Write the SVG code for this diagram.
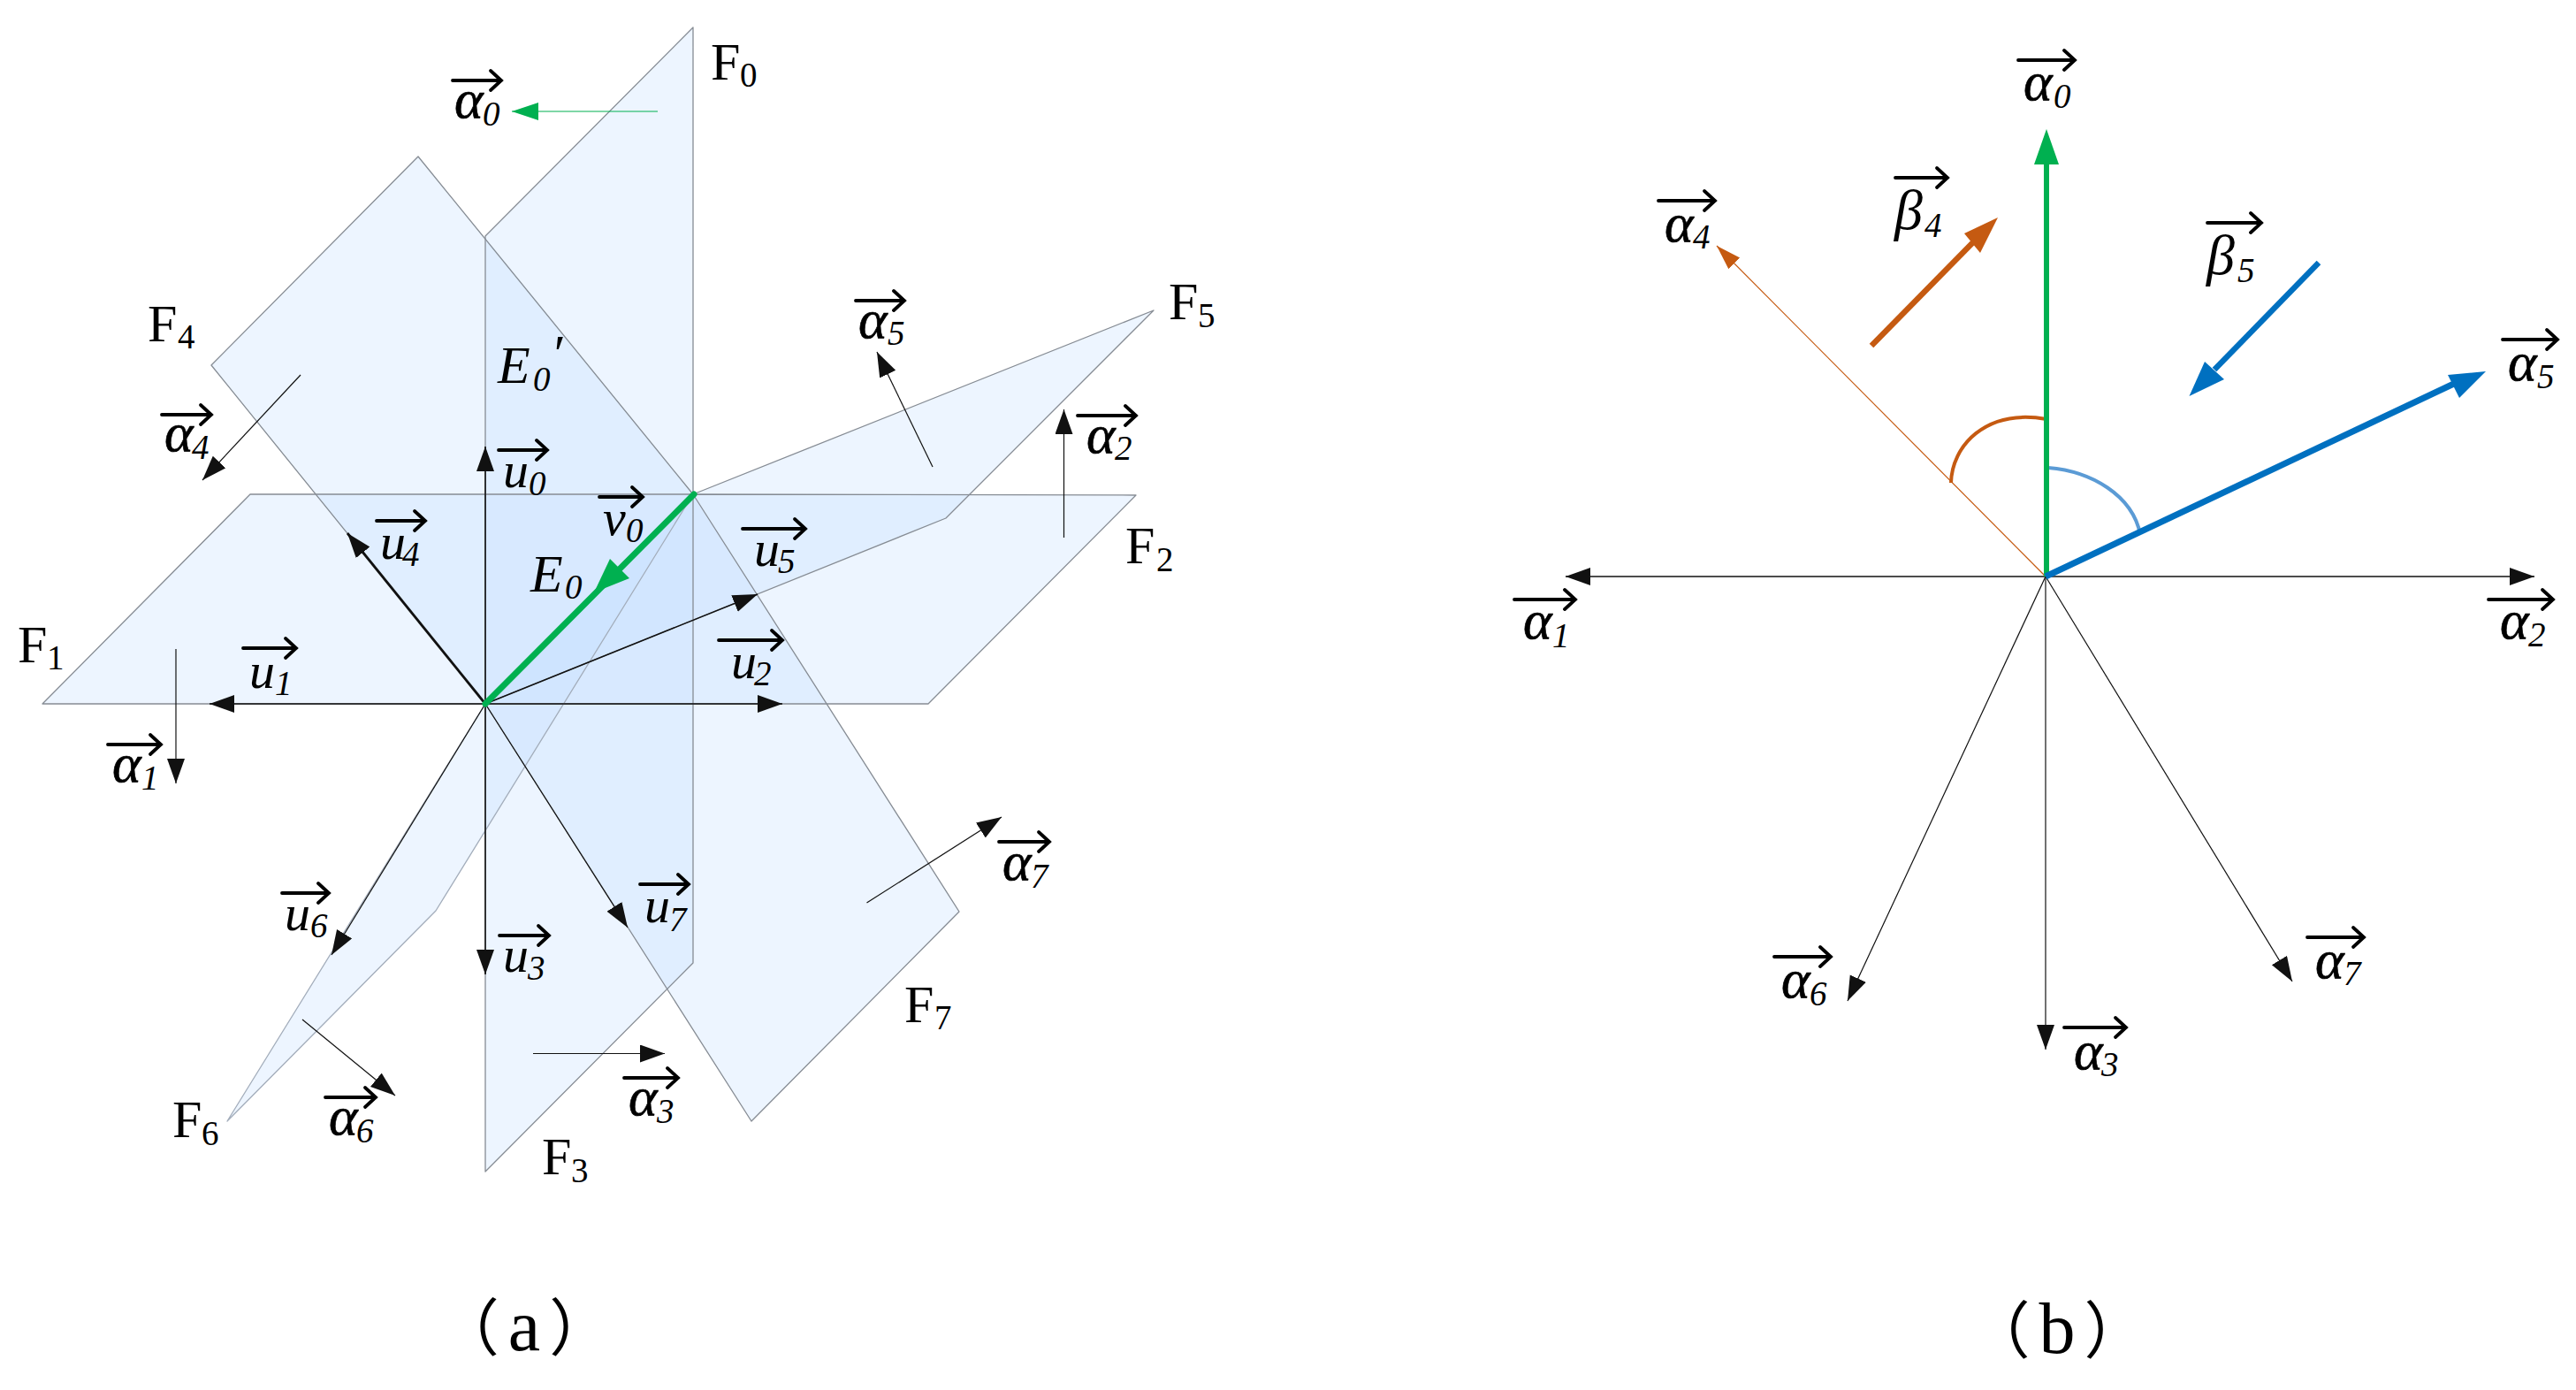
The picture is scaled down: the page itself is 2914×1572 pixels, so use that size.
<svg xmlns="http://www.w3.org/2000/svg" width="2914" height="1572" viewBox="0 0 2914 1572">
<style>
.b1{fill:#edf5ff}.b2{fill:#e0eeff}.b3{fill:#d8e9ff}.b4{fill:#d2e6ff}.b5{fill:#cee4ff}
.pl{fill:none;stroke:#868c94;stroke-width:1.3;stroke-linejoin:round}
.f{font-family:"Liberation Serif",serif;font-size:60px;fill:#000}
.fs{font-size:39px}
.v{font-family:"Liberation Serif",serif;font-style:italic;font-size:58px;fill:#000}
.a{font-size:62px;stroke:#000;stroke-width:.7}
.sub{font-size:39px;stroke:none}
.ov{fill:none;stroke:#000;stroke-width:3.8;stroke-linecap:round;stroke-linejoin:miter}
.k{stroke:#111;stroke-width:1.6;fill:none;marker-end:url(#hk)}
.k0{stroke:#111;stroke-width:1.2;fill:none;marker-end:url(#hk)}
.cap{font-family:"Liberation Serif","Noto Sans CJK SC",serif;font-size:70px;fill:#000;text-anchor:middle}
.capl{font-size:82px}
</style>
<defs>
<marker id="hk" markerUnits="userSpaceOnUse" markerWidth="30" markerHeight="22" refX="28" refY="10" orient="auto"><path d="M0 0L28 10L0 20Z" fill="#111"/></marker>
<marker id="hg" markerUnits="userSpaceOnUse" markerWidth="32" markerHeight="22" refX="30" refY="10" orient="auto"><path d="M0 0L30 10L0 20Z" fill="#00b050"/></marker>
<marker id="ho" markerUnits="userSpaceOnUse" markerWidth="30" markerHeight="22" refX="28" refY="10" orient="auto"><path d="M0 1L28 10L0 19Z" fill="#c55a11"/></marker>
</defs>
<rect width="2914" height="1572" fill="#fff"/>
<g id="plane-fills">
<polygon class="b1" points="784,31 549,267 549,796 784,559"/>
<polygon class="b1" points="283,559 784,559 549,796 48,796"/>
<polygon class="b1" points="784,559 1285,560 1050,796 549,796"/>
<polygon class="b1" points="549,796 784,559 784,1089 549,1325"/>
<polygon class="b1" points="473,177 239,413 549,796 784,559"/>
<polygon class="b1" points="784,559 1305,351 1070,586 549,796"/>
<polygon class="b1" points="549,796 784,559 493,1030 257,1268"/>
<polygon class="b1" points="549,796 784,559 1085,1031 850,1268"/>
<polygon class="b2" points="549,269 784,559 549,559"/>
<polygon class="b2" points="357,559 549,559 549,796"/>
<polygon class="b3" points="549,559 784,559 549,796"/>
<polygon class="b5" points="549,796 784,559 667,748.500"/>
<polygon class="b4" points="784,559 667,748.500 784,701"/>
<polygon class="b4" points="549,796 667,748.500 638,796"/>
<polygon class="b3" points="667,748.500 784,701 784,796 638,796"/>
<polygon class="b3" points="784,559 856,672 784,701"/>
<polygon class="b2" points="784,701 856,672 935,796 784,796"/>
<polygon class="b2" points="784,559 1096,560 1070,586 856,672"/>
<polygon class="b3" points="549,796 638,796 594,866"/>
<polygon class="b2" points="638,796 784,796 784,1089 755,1119 594,866"/>
<polygon class="b2" points="549,796 594,866 549,939"/>
</g>
<g id="F0"><polygon class="pl" points="784,31 549,267 549,796 784,559"/><text class="f" x="804" y="90">F<tspan class="fs" x="837" y="98">0</tspan></text></g>
<g id="F1"><polygon class="pl" points="283,559 784,559 549,796 48,796"/><text class="f" x="20" y="749">F<tspan class="fs" x="53" y="757">1</tspan></text></g>
<g id="F2"><polygon class="pl" points="784,559 1285,560 1050,796 549,796"/><text class="f" x="1273" y="637">F<tspan class="fs" x="1308" y="646">2</tspan></text></g>
<g id="F3"><polygon class="pl" points="549,796 784,559 784,1089 549,1325"/><text class="f" x="613" y="1328">F<tspan class="fs" x="646" y="1337">3</tspan></text></g>
<g id="F4"><polygon class="pl" points="473,177 239,413 549,796 784,559"/><text class="f" x="167" y="386">F<tspan class="fs" x="201" y="394">4</tspan></text></g>
<g id="F5"><polygon class="pl" points="784,559 1305,351 1070,586 549,796"/><text class="f" x="1322" y="361">F<tspan class="fs" x="1355" y="370">5</tspan></text></g>
<g id="F6"><polygon class="pl" style="stroke:#a3adbb" points="549,796 784,559 493,1030 257,1268"/><text class="f" x="195" y="1286">F<tspan class="fs" x="228" y="1295">6</tspan></text></g>
<g id="F7"><polygon class="pl" points="549,796 784,559 1085,1031 850,1268"/><text class="f" x="1023" y="1156">F<tspan class="fs" x="1057" y="1164">7</tspan></text></g>

<g id="connectors">
<g id="a-u">
<path class="k" d="M549 796V505"/>
<path class="k" d="M549 796H237"/>
<path class="k" d="M549 796H885"/>
<path class="k" d="M549 796V1102"/>
<path class="k" style="stroke-width:2.800" d="M549 796L393 603"/>
<path class="k" d="M549 796L857 672"/>
<path class="k0" d="M549 796L375 1080"/>
<path class="k0" d="M549 796L710 1049"/>
</g>
<g id="a-alpha">
<path fill="none" stroke="#00b050" stroke-width="1.2" marker-end="url(#hg)" d="M744 126H579"/>
<path class="k0" d="M199 734V886"/>
<path class="k0" d="M1203.500 608V463"/>
<path class="k0" d="M603 1191.500H752"/>
<path class="k0" d="M340 424L229 543"/>
<path class="k0" d="M1055 528L992 398"/>
<path class="k0" d="M342 1153L447 1239"/>
<path class="k0" d="M980.500 1021L1133 924"/>
</g>
<g id="a-v0">
<path fill="none" stroke="#00b050" stroke-width="7" stroke-linecap="round" d="M785 559L549 796"/>
<polygon fill="#00b050" points="672,670 690,632 712,654"/>
</g>
<g id="b-axes">
<path class="k" d="M2314 652H1771"/>
<path class="k" d="M2314 652H2867"/>
<path class="k0" d="M2314 652L2090 1132"/>
<path class="k0" d="M2314 652V1187"/>
<path class="k0" d="M2314 652L2593 1110"/>
<path fill="none" stroke="#c55a11" stroke-width="1.200" marker-end="url(#ho)" d="M2314 652L1942 278"/>
<path fill="none" stroke="#c55a11" stroke-width="4" d="M2207 546C2208 505 2245 462 2315 474"/>
<path fill="none" stroke="#5b9bd5" stroke-width="4" d="M2317 529C2366 533 2412 560 2421 604"/>
<path fill="none" stroke="#00b050" stroke-width="6" d="M2315 652V186"/>
<polygon fill="#00b050" points="2315,146 2301,186 2329,186"/>
<path fill="none" stroke="#0070c0" stroke-width="7" d="M2314 652L2780 432"/>
<polygon fill="#0070c0" points="2812,420 2769,424 2782,450"/>
<path fill="none" stroke="#c55a11" stroke-width="6.500" d="M2117 391L2232 274"/>
<polygon fill="#c55a11" points="2260,246 2222,264 2240,286"/>
<path fill="none" stroke="#0070c0" stroke-width="6.500" d="M2623 297L2505 418"/>
<polygon fill="#0070c0" points="2476.500,448 2494,409 2516,429"/>
</g>
</g>

<g id="labels-a">
<g id="a-alpha0"><path class="ov" d="M512 91H567m-12-11l12 11l-12 11"/><text class="v a" x="514" y="133">α<tspan class="sub" x="546" y="142">0</tspan></text></g>
<g id="a-alpha1"><path class="ov" d="M122 842H182m-12-11l12 11l-12 11"/><text class="v a" x="127" y="884">α<tspan class="sub" x="160" y="893">1</tspan></text></g>
<g id="a-alpha2"><path class="ov" d="M1219 470H1285m-12-11l12 11l-12 11"/><text class="v a" x="1229" y="512">α<tspan class="sub" x="1261" y="520">2</tspan></text></g>
<g id="a-alpha3"><path class="ov" d="M706 1219H767m-12-11l12 11l-12 11"/><text class="v a" x="711" y="1261">α<tspan class="sub" x="743" y="1270">3</tspan></text></g>
<g id="a-alpha4"><path class="ov" d="M183 469H239m-12-11l12 11l-12 11"/><text class="v a" x="186" y="510">α<tspan class="sub" x="217" y="519">4</tspan></text></g>
<g id="a-alpha5"><path class="ov" d="M968 340H1023m-12-11l12 11l-12 11"/><text class="v a" x="971" y="382">α<tspan class="sub" x="1004" y="390">5</tspan></text></g>
<g id="a-alpha6"><path class="ov" d="M368 1241H425m-12-11l12 11l-12 11"/><text class="v a" x="372" y="1283">α<tspan class="sub" x="403" y="1292">6</tspan></text></g>
<g id="a-alpha7"><path class="ov" d="M1130 952H1187m-12-11l12 11l-12 11"/><text class="v a" x="1134" y="995">α<tspan class="sub" x="1166" y="1004">7</tspan></text></g>
<g id="a-u0"><path class="ov" d="M564 509H619m-12-11l12 11l-12 11"/><text class="v" x="569" y="551">u<tspan class="sub" x="598" y="560">0</tspan></text></g>
<g id="a-u1"><path class="ov" d="M275 733H335m-12-11l12 11l-12 11"/><text class="v" x="282" y="778">u<tspan class="sub" x="311" y="786">1</tspan></text></g>
<g id="a-u2"><path class="ov" d="M813 724H885m-12-11l12 11l-12 11"/><text class="v" x="827" y="767">u<tspan class="sub" x="853" y="775">2</tspan></text></g>
<g id="a-u3"><path class="ov" d="M565 1058H621m-12-11l12 11l-12 11"/><text class="v" x="569" y="1099">u<tspan class="sub" x="597" y="1108">3</tspan></text></g>
<g id="a-u4"><path class="ov" d="M426 589H481m-12-11l12 11l-12 11"/><text class="v" x="430" y="632">u<tspan class="sub" x="455" y="640">4</tspan></text></g>
<g id="a-u5"><path class="ov" d="M840 598H911m-12-11l12 11l-12 11"/><text class="v" x="853" y="640">u<tspan class="sub" x="880" y="648">5</tspan></text></g>
<g id="a-u6"><path class="ov" d="M319 1010H372m-12-11l12 11l-12 11"/><text class="v" x="322" y="1052">u<tspan class="sub" x="351" y="1060">6</tspan></text></g>
<g id="a-u7"><path class="ov" d="M724 1000H779m-12-11l12 11l-12 11"/><text class="v" x="729" y="1043">u<tspan class="sub" x="757" y="1053">7</tspan></text></g>
<g id="a-v"><path class="ov" d="M678 562H727m-12-11l12 11l-12 11"/><text class="v" x="682" y="605">v<tspan class="sub" x="708" y="613">0</tspan></text></g>
<g id="a-E0"><text class="v" x="600" y="669" style="font-size:60px">E<tspan class="sub" x="639" y="677">0</tspan></text></g>
<g id="a-E0p"><text class="v" x="563" y="433" style="font-size:60px">E<tspan class="sub" x="603" y="442">0</tspan><tspan x="623" y="420">′</tspan></text></g>
<text id="cap-a" class="cap" x="593" y="1527">（<tspan class="capl" dx="10">a</tspan><tspan dx="10">）</tspan></text>
</g>

<g id="labels-b">
<g id="b-alpha0"><path class="ov" d="M2283 68H2347m-12-11l12 11l-12 11"/><text class="v a" x="2289" y="113">α<tspan class="sub" x="2323" y="122">0</tspan></text></g>
<g id="b-alpha1"><path class="ov" d="M1713 678H1782m-12-11l12 11l-12 11"/><text class="v a" x="1723" y="722">α<tspan class="sub" x="1756" y="732">1</tspan></text></g>
<g id="b-alpha2"><path class="ov" d="M2815 678H2888m-12-11l12 11l-12 11"/><text class="v a" x="2828" y="722">α<tspan class="sub" x="2860" y="731">2</tspan></text></g>
<g id="b-alpha3"><path class="ov" d="M2335 1162H2405m-12-11l12 11l-12 11"/><text class="v a" x="2346" y="1209">α<tspan class="sub" x="2377" y="1217">3</tspan></text></g>
<g id="b-alpha4"><path class="ov" d="M1876 227H1940m-12-11l12 11l-12 11"/><text class="v a" x="1883" y="273">α<tspan class="sub" x="1915" y="281">4</tspan></text></g>
<g id="b-alpha5"><path class="ov" d="M2831 384H2893m-12-11l12 11l-12 11"/><text class="v a" x="2837" y="430">α<tspan class="sub" x="2870" y="439">5</tspan></text></g>
<g id="b-alpha6"><path class="ov" d="M2007 1082H2071m-12-11l12 11l-12 11"/><text class="v a" x="2015" y="1128">α<tspan class="sub" x="2047" y="1137">6</tspan></text></g>
<g id="b-alpha7"><path class="ov" d="M2610 1060H2674m-12-11l12 11l-12 11"/><text class="v a" x="2619" y="1106">α<tspan class="sub" x="2651" y="1114">7</tspan></text></g>
<g id="b-beta4"><path class="ov" d="M2144 201H2203m-12-11l12 11l-12 11"/><text class="v" x="2143" y="259" style="font-size:64px">β<tspan class="sub" x="2177" y="268">4</tspan></text></g>
<g id="b-beta5"><path class="ov" d="M2497 252H2558m-12-11l12 11l-12 11"/><text class="v" x="2496" y="310" style="font-size:64px">β<tspan class="sub" x="2531" y="319">5</tspan></text></g>
<text id="cap-b" class="cap" x="2327" y="1530">（<tspan class="capl" dx="10">b</tspan><tspan dx="10">）</tspan></text>
</g>
</svg>
